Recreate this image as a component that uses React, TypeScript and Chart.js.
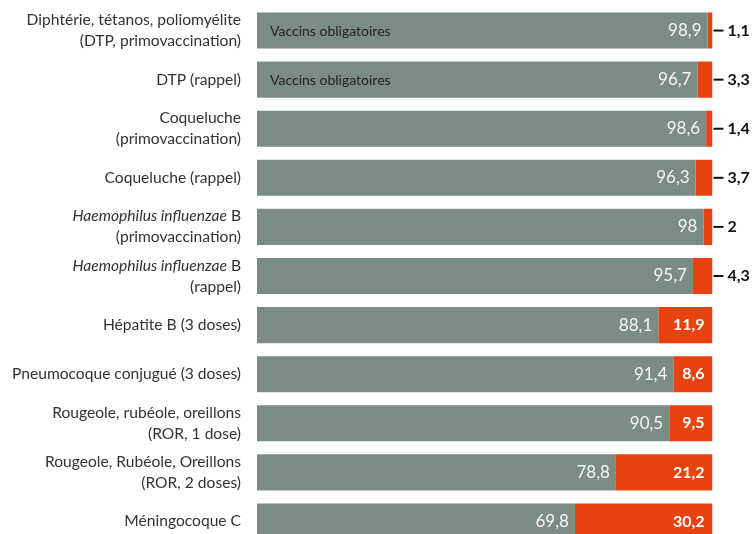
import React, { useEffect, useRef } from "react";
import { Chart, registerables } from "chart.js";

Chart.register(...registerables);

const categories: string[][] = [
  ["Diphtérie, tétanos, poliomyélite", "(DTP, primovaccination)"],
  ["DTP (rappel)"],
  ["Coqueluche", "(primovaccination)"],
  ["Coqueluche (rappel)"],
  ["*Haemophilus influenzae* B", "(primovaccination)"],
  ["*Haemophilus influenzae* B", "(rappel)"],
  ["Hépatite B (3 doses)"],
  ["Pneumocoque conjugué (3 doses)"],
  ["Rougeole, rubéole, oreillons", "(ROR, 1 dose)"],
  ["Rougeole, Rubéole, Oreillons", "(ROR, 2 doses)"],
  ["Méningocoque C"],
];

const vaccinated = [98.9, 96.7, 98.6, 96.3, 98, 95.7, 88.1, 91.4, 90.5, 78.8, 69.8];
const notVaccinated = [1.1, 3.3, 1.4, 3.7, 2, 4.3, 11.9, 8.6, 9.5, 21.2, 30.2];
const notes = ["Vaccins obligatoires", "Vaccins obligatoires", "", "", "", "", "", "", "", "", ""];

const GRAY = "#7b8c86";
const ORANGE = "#e8420f";
const FONT = "Lato";
const LABEL_SIZE = 15.6;

const fmt = (v: number) => String(v).replace(".", ",");

function drawMixedRight(ctx: CanvasRenderingContext2D, line: string, xRight: number, y: number) {
  const parts = line.split("*");
  const segs = parts.map((t, i) => ({ t, italic: i % 2 === 1 })).filter((s) => s.t.length);
  let total = 0;
  const widths = segs.map((s) => {
    ctx.font = `${s.italic ? "italic " : ""}${LABEL_SIZE}px ${FONT}`;
    const w = ctx.measureText(s.t).width;
    total += w;
    return w;
  });
  let x = xRight - total;
  segs.forEach((s, i) => {
    ctx.font = `${s.italic ? "italic " : ""}${LABEL_SIZE}px ${FONT}`;
    ctx.textAlign = "left";
    ctx.fillText(s.t, x, y);
    x += widths[i];
  });
}

const labelPlugin = {
  id: "customLabels",
  afterDatasetsDraw(chart: any) {
    const ctx: CanvasRenderingContext2D = chart.ctx;
    const meta0 = chart.getDatasetMeta(0);
    const meta1 = chart.getDatasetMeta(1);
    ctx.save();
    ctx.textBaseline = "middle";
    categories.forEach((lines, i) => {
      const bar0 = meta0.data[i];
      const bar1 = meta1.data[i];
      const y = bar0.y;
      ctx.fillStyle = "#333333";
      const lh = 21;
      lines.forEach((ln, k) => {
        const ly = y + (k - (lines.length - 1) / 2) * lh;
        drawMixedRight(ctx, ln, 241, ly);
      });
      if (notes[i]) {
        ctx.font = `14px ${FONT}`;
        ctx.fillStyle = "#222222";
        ctx.textAlign = "left";
        ctx.fillText(notes[i], 270, y + 1);
      }
      ctx.font = `17px ${FONT}`;
      ctx.fillStyle = "rgba(255,255,255,0.92)";
      ctx.textAlign = "right";
      ctx.fillText(fmt(vaccinated[i]), bar0.x - 6, y);
      const segW = bar1.x - bar1.base;
      if (segW > 30) {
        ctx.font = `bold 16px ${FONT}`;
        ctx.fillStyle = "#ffffff";
        ctx.textAlign = "right";
        ctx.fillText(fmt(notVaccinated[i]), bar1.x - 8, y);
      } else {
        ctx.strokeStyle = "#111111";
        ctx.lineWidth = 2;
        ctx.beginPath();
        ctx.moveTo(bar1.x + 1, y);
        ctx.lineTo(bar1.x + 11, y);
        ctx.stroke();
        ctx.font = `bold 16px ${FONT}`;
        ctx.fillStyle = "#111111";
        ctx.textAlign = "left";
        ctx.fillText(fmt(notVaccinated[i]), bar1.x + 15, y);
      }
    });
    ctx.restore();
  },
};

export default function App() {
  const ref = useRef<HTMLCanvasElement>(null);
  useEffect(() => {
    if (!ref.current) return;
    const chart = new Chart(ref.current, {
      type: "bar",
      data: {
        labels: categories.map((c) => c.join(" ").replace(/\*/g, "")),
        datasets: [
          {
            label: "Vaccinés",
            data: vaccinated,
            backgroundColor: GRAY,
            barPercentage: 0.735,
            categoryPercentage: 1,
          },
          {
            label: "Non vaccinés",
            data: notVaccinated,
            backgroundColor: ORANGE,
            barPercentage: 0.735,
            categoryPercentage: 1,
          },
        ],
      },
      options: {
        indexAxis: "y",
        animation: false,
        responsive: true,
        maintainAspectRatio: false,
        layout: { padding: { left: 257, right: 43.5, top: 6, bottom: 0 } },
        plugins: { legend: { display: false }, tooltip: { enabled: false } },
        scales: {
          x: { stacked: true, min: 0, max: 100, display: false },
          y: { stacked: true, display: false },
        },
      },
      plugins: [labelPlugin],
    });
    return () => chart.destroy();
  }, []);
  return (
    <div style={{ position: "absolute", left: 0, top: 0, width: 756, height: 546 }}>
      <canvas ref={ref} />
    </div>
  );
}
